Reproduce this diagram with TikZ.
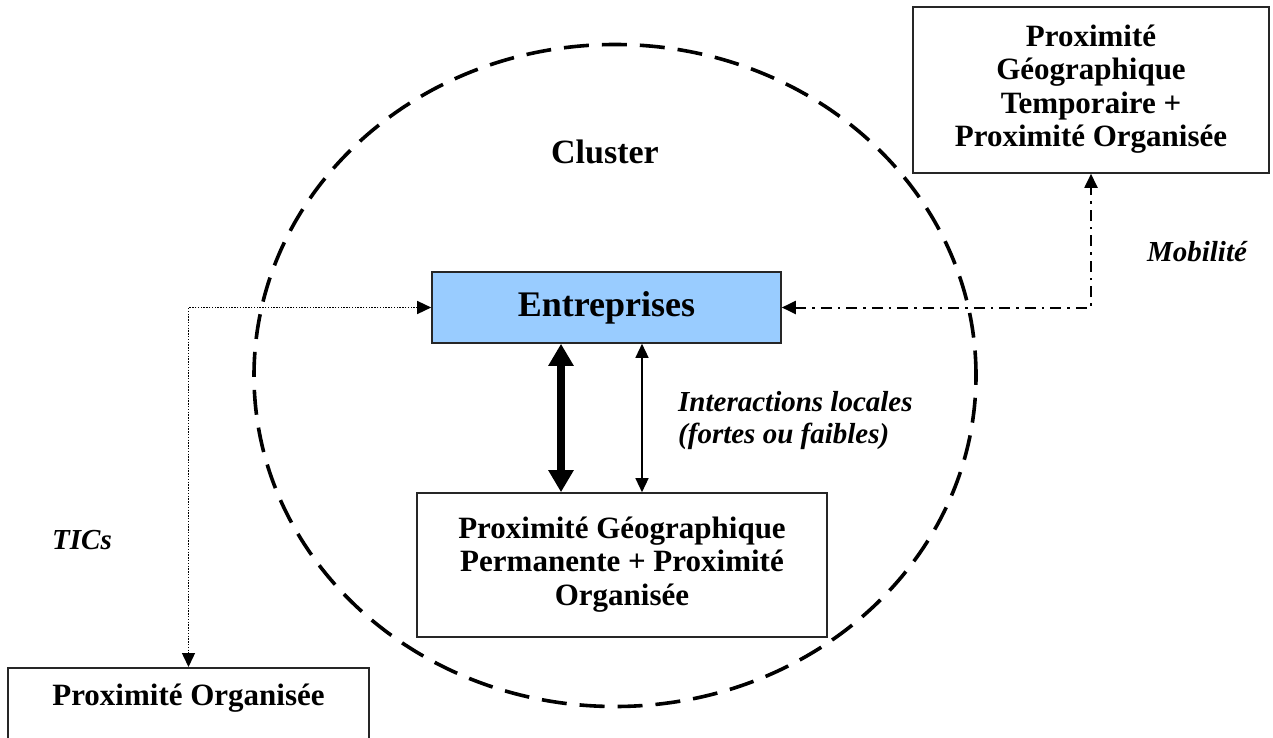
\documentclass[tikz,border=0pt]{standalone}
\usepackage{fontspec}
\setmainfont{Liberation Serif}
\usetikzlibrary{arrows.meta}
\begin{document}
\begin{tikzpicture}[x=1pt,y=-1pt,
  box/.style={draw=black!85,line width=1.6pt,inner sep=0pt,align=center,
    font=\fontsize{31}{33.5}\selectfont\bfseries},
  lbl/.style={font=\fontsize{29}{32}\selectfont\bfseries\itshape,align=left,inner sep=0pt},
  bitip/.style={{Triangle[length=14pt,width=13pt]}-{Triangle[length=14pt,width=13pt]}},
]
\useasboundingbox (0,0) rectangle (1273,738);
\clip (0,0) rectangle (1273,738);

% the cluster boundary
\draw[line width=3.6pt,dash pattern=on 25pt off 13pt]
  (615,375.5) ellipse [x radius=361pt, y radius=331pt];
\node[font=\fontsize{34}{36}\selectfont\bfseries,inner sep=0pt] (cl) at (605,152) {Cluster};

% boxes
\node[box,fill={rgb,255:red,153;green,204;blue,255},minimum width=349pt,minimum height=71pt,
  font=\fontsize{36}{38}\selectfont\bfseries] (ent) at (606.5,307.5) {Entreprises};
\node[box,minimum width=410pt,minimum height=144pt] (perm) at (622,565)
  {\raisebox{4pt}{\begin{tabular}{@{}c@{}}Proximité Géographique\\Permanente + Proximité\\Organisée\end{tabular}}};
\node[box,minimum width=356pt,minimum height=166pt] (temp) at (1091,90)
  {\raisebox{-2pt}{\begin{tabular}{@{}c@{}}Proximité\\Géographique\\Temporaire +\\Proximité Organisée\end{tabular}}};
\node[box,anchor=north,minimum width=361pt,text height=38pt,text depth=55pt] (org)
  at (188.5,667) {Proximité Organisée};

% local interactions
\coordinate (tx) at (561,0);
\coordinate (fx) at (642,0);
\draw[line width=8pt,{Triangle[length=22pt,width=24pt]}-{Triangle[length=22pt,width=24pt]}]
  (ent.south -| tx) -- (perm.north -| tx);
\draw[line width=1.4pt,bitip] (ent.south -| fx) -- (perm.north -| fx);
\node[lbl,anchor=west] (inter) at (678,421) {Interactions locales\\(fortes ou faibles)};

% mobility
\draw[line width=2pt,bitip,dash pattern=on 11pt off 6pt on 2.5pt off 6pt]
  (ent.east) -| (temp.south);
\node[lbl] (mob) at (1197,252) {Mobilité};

% ICT
\draw[line width=1.4pt,bitip,dash pattern=on 1.4pt off 1.4pt]
  (ent.west) -| (org.north);
\node[lbl] (tic) at (82,540) {TICs};
\end{tikzpicture}
\end{document}
